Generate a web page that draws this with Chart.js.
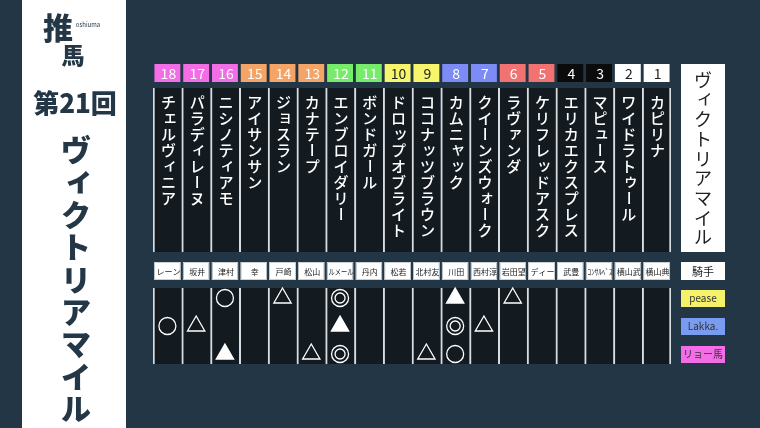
<!DOCTYPE html>
<html>
<head>
<meta charset="utf-8">
<script src="https://cdn.jsdelivr.net/npm/chart.js@4"></script>
<style>
body { margin: 0; background: #233645; }
#wrap { width: 760px; height: 428px; position: relative; }
</style>
</head>
<body>
<div id="wrap"><canvas id="c"></canvas></div>
<script>
// gate numbers, left to right
let gates = ["18", "17", "16", "15", "14", "13", "12", "11", "10", "9", "8", "7", "6", "5", "4", "3", "2", "1"];
let horses = ["チェルヴィニア", "パラディレーヌ", "ニシノティアモ", "アイサンサン", "ジョスラン", "カナテープ",
    "エンブロイダリー", "ボンドガール", "ドロップオブライト", "ココナッツブラウン", "カムニャック", "クイーンズウォーク",
    "ラヴァンダ", "ケリフレッドアスク", "エリカエクスプレス", "マピュース", "ワイドラトゥール", "カピリナ"];
let jockeys = ["レーン", "坂井", "津村", "幸", "戸崎", "松山", "ルメール", "丹内", "松若", "北村友", "川田", "西村淳",
    "岩田望", "ディー", "武豊", "ｺﾝｻﾙﾍﾞｽ", "横山武", "横山典"];
let gateColors = ["#f36de6", "#f36de6", "#f36de6", "#f5a468", "#f5a468", "#f5a468", "#77ec6a", "#77ec6a",
    "#f6f56b", "#f6f56b", "#7d8cf4", "#7d8cf4", "#f27171", "#f27171", "#0b0b0b", "#0b0b0b", "#ffffff", "#ffffff"];
let gateTextColors = ["#fff", "#fff", "#fff", "#fff", "#fff", "#fff", "#fff", "#fff",
    "#222", "#222", "#fff", "#fff", "#fff", "#fff", "#fff", "#fff", "#222", "#222"];

// predictors and their marks (horse -> mark)
let predictors = ["pease", "Lakka.", "リョー馬"];
let predictorColors = ["#f6f16b", "#7a9cf0", "#f36de6"];
let peaseMarks = { "ニシノティアモ": "○", "ジョスラン": "△", "エンブロイダリー": "◎", "カムニャック": "▲", "ラヴァンダ": "△" };
let lakkaMarks = { "チェルヴィニア": "○", "パラディレーヌ": "△", "エンブロイダリー": "▲", "カムニャック": "◎", "クイーンズウォーク": "△" };
let ryomaMarks = { "ニシノティアモ": "▲", "カナテープ": "△", "エンブロイダリー": "◎", "ココナッツブラウン": "△", "カムニャック": "○" };
let allMarks = [peaseMarks, lakkaMarks, ryomaMarks];

let raceTitle = "ヴィクトリアマイル";

// layout rows (y in page pixels)
let gateRow = [64, 82];
let nameRow = [88, 252];
let jockeyRow = [262, 280];
let markRow = [288, 364];
let markY = [298, 326, 354];

let font = "'Noto Sans CJK JP', 'Noto Sans', sans-serif";

function markPoints(symbol) {
    let pts = [];
    allMarks.forEach(function (marks, r) {
        for (let name in marks) {
            if (marks[name] == symbol) pts.push({ x: name, y: markY[r] });
        }
    });
    return pts;
}

function pointSet(symbol, style, radius, fill) {
    return {
        type: "line", showLine: false, data: markPoints(symbol),
        pointStyle: style, pointRadius: radius, pointHoverRadius: radius,
        pointBorderColor: "#ffffff", pointBorderWidth: 1.3,
        pointBackgroundColor: fill ? "#ffffff" : "rgba(0,0,0,0)"
    };
}

function colBorder(ctx) {
    return ctx.dataIndex == horses.length - 1 ? { left: 2, right: 2, top: 0, bottom: 0 } : { left: 2, right: 0, top: 0, bottom: 0 };
}

let small = "ァィゥェォャュョッ";

function drawVertical(c, text, x, y, step, size, weight, color) {
    c.font = weight + " " + size + "px " + font;
    c.fillStyle = color;
    c.textAlign = "center";
    c.textBaseline = "middle";
    for (let i = 0; i < text.length; i++) {
        let ch = text[i];
        let cy = y + i * step;
        if (ch == "ー") {
            c.save();
            c.translate(x, cy);
            c.rotate(Math.PI / 2);
            c.scale(1, -1);
            c.fillText(ch, 0, 0);
            c.restore();
        } else if (small.indexOf(ch) >= 0) {
            c.fillText(ch, x + size * 0.12, cy - size * 0.12);
        } else {
            c.fillText(ch, x, cy);
        }
    }
}

let textPlugin = {
    id: "texts",
    afterDatasetsDraw: function (chart) {
        let c = chart.ctx;
        let xs = chart.scales.x;
        c.save();

        // left title panel
        c.fillStyle = "#ffffff";
        c.fillRect(22, 0, 104, 428);
        let navy = "#243746";
        c.fillStyle = navy;
        c.textAlign = "center";
        c.textBaseline = "middle";
        c.font = "900 30px " + font;
        c.fillText("推", 58, 28);
        c.font = "6px " + font;
        c.fillText("oshiuma", 88, 25);
        c.font = "900 23px " + font;
        c.fillText("馬", 73, 55);
        c.font = "900 26px " + font;
        c.fillText("第21回", 75, 103);
        drawVertical(c, raceTitle, 76, 150, 32.3, 30, "900", navy);

        // gate numbers, names, jockeys
        for (let i = 0; i < horses.length; i++) {
            let x = xs.getPixelForValue(i);
            c.font = "14px " + font;
            c.fillStyle = gateTextColors[i];
            c.textAlign = "center";
            c.textBaseline = "middle";
            c.fillText(gates[i], x + 1, 74);
            drawVertical(c, horses[i], x + 1, 102, 16, 15, "500", "#ffffff");
            c.font = "8px " + font;
            c.fillStyle = "#222";
            c.textAlign = "center";
            c.fillText(jockeys[i], x + 1, 271.5, 25);
        }

        // right side boxes
        c.fillStyle = "#ffffff";
        c.fillRect(681, 64, 44, 188);
        c.fillRect(681, 262, 44, 18);
        drawVertical(c, raceTitle, 703, 80, 19.7, 18, "400", "#222");
        c.font = "11px " + font;
        c.fillStyle = "#222";
        c.fillText("騎手", 703, 271.5);
        predictors.forEach(function (p, r) {
            c.fillStyle = predictorColors[r];
            c.fillRect(681, markY[r] - 8, 44, 17);
            c.fillStyle = "#333";
            c.font = "10px " + font;
            c.fillText(p, 703, markY[r] + 0.5, 40);
        });
        c.restore();
    }
};

new Chart(document.getElementById("c"), {
    type: "bar",
    data: {
        labels: horses,
        datasets: [
            pointSet("◎", "circle", 8.5, false),
            pointSet("◎", "circle", 5, false),
            pointSet("○", "circle", 8.5, false),
            pointSet("△", "triangle", 10, false),
            pointSet("▲", "triangle", 10, true),
            {
                data: horses.map(function () { return gateRow; }),
                backgroundColor: gateColors, grouped: false,
                barPercentage: 0.9, categoryPercentage: 1
            },
            {
                data: horses.map(function () { return nameRow; }),
                backgroundColor: "#131b21", borderColor: "#d9dde0", borderWidth: colBorder,
                borderSkipped: false, grouped: false, barPercentage: 1, categoryPercentage: 1
            },
            {
                data: horses.map(function () { return jockeyRow; }),
                backgroundColor: "#ffffff", borderColor: "#c8d0d5", borderWidth: 1,
                borderSkipped: false, grouped: false, barPercentage: 0.94, categoryPercentage: 1
            },
            {
                data: horses.map(function () { return markRow; }),
                backgroundColor: "#131b21", borderColor: "#d9dde0", borderWidth: colBorder,
                borderSkipped: false, grouped: false, barPercentage: 1, categoryPercentage: 1
            }
        ]
    },
    options: {
        responsive: true,
        maintainAspectRatio: false,
        animation: false,
        layout: { autoPadding: false, padding: { left: 153, right: 89, top: 0, bottom: 0 } },
        plugins: { legend: { display: false }, tooltip: { enabled: false } },
        scales: {
            x: { display: false, offset: true },
            y: { display: false, min: 0, max: 428, reverse: true }
        }
    },
    plugins: [textPlugin]
});
</script>
</body>
</html>
